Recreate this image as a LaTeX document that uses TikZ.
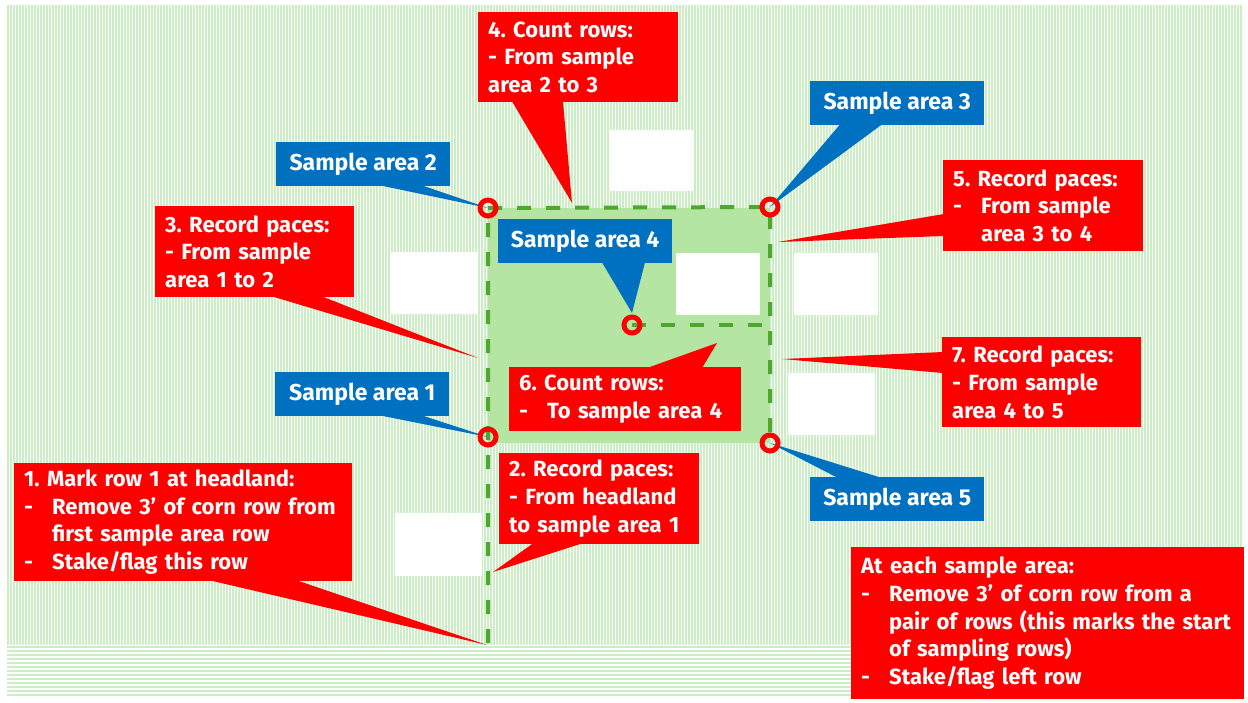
\documentclass[tikz,border=0pt]{standalone}
\usepackage{fontspec}
\setmainfont{Fira Sans}
\usetikzlibrary{calc}
\definecolor{stepred}{RGB}{255,0,0}
\definecolor{areablue}{RGB}{0,112,192}
\definecolor{walkgreen}{RGB}{78,167,46}
\definecolor{plotgreen}{RGB}{180,229,162}
\definecolor{rowgreen}{RGB}{204,238,196}
\frenchspacing
\tikzset{
    stepnote/.style = {fill=stepred, text=white, anchor=north west, align=left,
        font=\bfseries\fontsize{22}{27.7}\selectfont, inner xsep=10pt, inner ysep=0pt},
    areatag/.style = {fill=areablue, text=white, anchor=north west,
        font=\bfseries\fontsize{23}{26}\selectfont, minimum width=174pt, minimum height=44pt},
    areaspot/.style = {circle, draw=stepred, line width=5pt, minimum size=16pt, inner sep=0pt},
    walkline/.style = {walkgreen, line width=4pt, dash pattern=on 14pt off 15pt},
    blankbox/.style = {fill=white},
}
\newcommand{\hang}[1]{\makebox[28pt][l]{-}#1}
\newcommand{\hangon}{\hspace*{28pt}}

\begin{document}
\begin{tikzpicture}[x=1pt, y=-1pt]
\useasboundingbox (0,0) rectangle (1248,702);
\foreach \x in {8,11,...,1242} \draw[rowgreen, line width=1.1pt] (\x,5) -- (\x,645);
\foreach \y in {647,651,...,697} \draw[rowgreen, line width=1.1pt] (7,\y) -- (1243,\y);

\fill[blankbox] (609,130) rectangle (693,191);
\fill[blankbox] (390,252) rectangle (477,314);
\fill[blankbox] (794,253) rectangle (878,315);
\fill[blankbox] (788,373) rectangle (875,435);
\fill[blankbox] (395,513) rectangle (482,576);

\coordinate (s1) at (488,437);
\coordinate (s2) at (488,208);
\coordinate (s3) at (770,207);
\coordinate (s4) at (632,325);
\coordinate (s5) at (770,443);
\coordinate (head) at (488,643);

\fill[plotgreen] (s2) rectangle (s5);
\fill[blankbox] (676,253) rectangle (760,315);
\draw[walkline] (head) -- (s1) -- (s2) -- (s3) -- (s5);
\draw[walkline] (s4) -- (s4 -| s3);

\coordinate (t1) at (487,645);
\coordinate (t2) at (493,572);
\coordinate (t3) at (478,358);
\coordinate (t4) at (572,203);
\coordinate (t5) at (778,242);
\coordinate (t6) at (717,343);
\coordinate (t7) at (782,359);

\node[stepnote, text width=318pt, minimum height=118pt] (n1) at (14,463)
    {1. Mark row 1 at headland:\\\hang{Remove 3’ of corn row from}\\\hangon first sample area row\\\hang{Stake/flag this row}};
\fill[stepred] ($(n1.south west)+(196,-1)$) -- (t1) -- ($(n1.south west)+(283,-1)$) -- cycle;

\node[stepnote, text width=180pt, minimum height=91pt] (n2) at (499,453)
    {2. Record paces:\\- From headland\\to sample area 1};
\fill[stepred] ($(n2.south west)+(34,-1)$) -- (t2) -- ($(n2.south west)+(83,-1)$) -- cycle;

\node[stepnote, text width=179pt, minimum height=91pt] (n3) at (155,206)
    {3. Record paces:\\- From sample\\area 1 to 2};
\fill[stepred] ($(n3.south west)+(117,-1)$) -- (t3) -- ($(n3.south west)+(167,-1)$) -- cycle;

\node[stepnote, text width=180pt, minimum height=90pt] (n4) at (478,12)
    {4. Count rows:\\- From sample\\area 2 to 3};
\fill[stepred] ($(n4.south west)+(34,-1)$) -- (t4) -- ($(n4.south west)+(85,-1)$) -- cycle;

\node[stepnote, text width=180pt, minimum height=91pt] (n5) at (943,160)
    {5. Record paces:\\\hang{From sample}\\\hangon area 3 to 4};
\fill[stepred] ($(n5.north west)+(1,54)$) -- (t5) -- ($(n5.north west)+(1,76)$) -- cycle;

\node[stepnote, text width=212pt, minimum height=64pt] (n6) at (509,367)
    {6. Count rows:\\\hang{To sample area 4}};
\fill[stepred] ($(n6.north west)+(138,1)$) -- (t6) -- ($(n6.north west)+(193,1)$) -- cycle;

\node[stepnote, text width=179pt, minimum height=90pt] (n7) at (942,337)
    {7. Record paces:\\- From sample\\area 4 to 5};
\fill[stepred] ($(n7.north west)+(1,15)$) -- (t7) -- ($(n7.north west)+(1,36)$) -- cycle;

\node[stepnote, text width=373pt, minimum height=152pt] (n8) at (851,547)
    {At each sample area:\\\hang{Remove 3’ of corn row from a}\\\hangon pair of rows (this marks the start\\\hangon of sampling rows)\\\hang{Stake/flag left row}};

\node[areatag] (b1) at (275,372) {Sample area 1};
\fill[areablue] ($(b1.south west)+(105,-1)$) -- (s1) -- ($(b1.south west)+(147,-1)$) -- cycle;
\node[areatag] (b2) at (276,142) {Sample area 2};
\fill[areablue] ($(b2.south west)+(104,-1)$) -- (s2) -- ($(b2.south west)+(146,-1)$) -- cycle;
\node[areatag] (b3) at (810,81) {Sample area 3};
\fill[areablue] ($(b3.south west)+(30,-1)$) -- (s3) -- ($(b3.south west)+(72,-1)$) -- cycle;
\node[areatag] (b4) at (498,219) {Sample area 4};
\fill[areablue] ($(b4.south west)+(104,-1)$) -- ($(s4)+(0,-12)$) -- ($(b4.south west)+(147,-1)$) -- cycle;
\node[areatag] (b5) at (810,477) {Sample area 5};
\fill[areablue] ($(b5.north west)+(28,1)$) -- (s5) -- ($(b5.north west)+(72,1)$) -- cycle;

\foreach \s in {1,...,5} \node[areaspot] (c\s) at (s\s) {};
\end{tikzpicture}
\end{document}
